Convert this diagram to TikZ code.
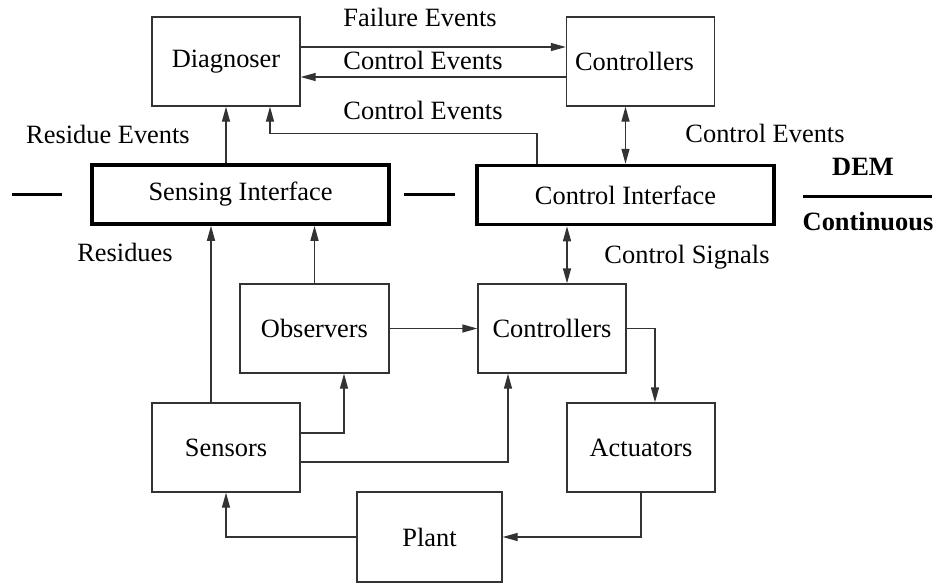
\documentclass[tikz,border=0pt]{standalone}
\usepackage{fontspec}
\setmainfont{Liberation Serif}
\usetikzlibrary{arrows.meta,calc}
\tikzset{
  txt/.style={font=\fontsize{26.4}{30}\selectfont, inner sep=0pt},
  box/.style={txt, draw=black!80, line width=1.3pt, minimum width=148pt, minimum height=89pt},
  ibox/.style={txt, draw=black, line width=3.5pt, minimum width=297pt, minimum height=59pt},
  tip/.style={Triangle[length=15pt,width=8pt]},
  arr/.style={draw=black!80, line width=1.3pt, -{Triangle[length=15pt,width=8pt]}},
  darr/.style={draw=black!80, line width=1.3pt, {Triangle[length=15pt,width=8pt]}-{Triangle[length=15pt,width=8pt]}},
  bar/.style={draw=black, line width=3pt},
  lbl/.style={txt},
  bold/.style={txt, font=\fontsize{26.4}{30}\selectfont\bfseries}
}
\begin{document}
\begin{tikzpicture}[x=1pt,y=-1pt]
\useasboundingbox (0,0) rectangle (938,582);

% upper (discrete event) level
\node[box] (diag)  at (226,61.5)  {Diagnoser};
\node[box] (ctrlT) at (640.5,61.5) {\hspace*{-12pt}Controllers};
\node[ibox] (sens) at (240.5,194.5) {Sensing Interface};
\node[ibox] (cint) at (625.5,195)  {Control Interface};

% lower (continuous) level
\node[box, minimum width=149pt] (obs) at (314.5,328.5) {Observers};
\node[box] (ctrlB)   at (552,328.5)  {Controllers};
\node[box] (sensors) at (226,447.5)  {Sensors};
\node[box] (act)     at (641,447.5)  {Actuators};
\node[box, minimum width=145pt, minimum height=90pt] (plant) at (429.5,537) {Plant};

% labels
\node[lbl] (lfail)  at (420,17)  {Failure Events};
\node[lbl] (lce1)   at (423,60)  {Control Events};
\node[lbl] (lce2)   at (423,110) {Control Events};
\node[lbl] (lres)   at (108,134) {Residue Events};
\node[lbl] (lce3)   at (765,133) {Control Events};
\node[lbl] (lresid) at (125,252) {Residues};
\node[lbl] (lsig)   at (687,257) {Control Signals};
\node[bold] (ldem)  at (863,167) {DEM};
\node[bold] (lcont) at (868,221) {Continuous};

% level separators
\coordinate (d1a) at (12,194);  \coordinate (d1b) at (62,194);
\coordinate (d2a) at (404,194); \coordinate (d2b) at (455,194);
\coordinate (d3a) at (803,196); \coordinate (d3b) at (932,196);
\draw[bar] (d1a) -- (d1b);
\draw[bar] (d2a) -- (d2b);
\draw[bar] (d3a) -- (d3b);

% event connections
\draw[arr] ([yshift=14.5pt]diag.east) -- ([yshift=14.5pt]ctrlT.west);
\draw[arr] ([yshift=-15.5pt]ctrlT.west) -- ([yshift=-15.5pt]diag.east);
\draw[arr] ([xshift=-88.5pt]cint.north) -- ++(0,-30) -| ([xshift=44pt]diag.south);
\draw[arr] (sens.north -| diag.south) -- (diag.south);
\draw[darr] (cint.north |- ctrlT.south) -- (cint.north);
\draw[darr] ([xshift=15pt]ctrlB.north |- cint.south) -- ([xshift=15pt]ctrlB.north);

% signal connections
\draw[arr] ([xshift=-15pt]sensors.north) -- ([xshift=-15pt]sensors.north |- sens.south);
\draw[arr] (obs.north) -- (obs.north |- sens.south);
\draw[arr] (obs.east) -- (obs.east -| ctrlB.west);
\draw[arr] ([yshift=14.5pt]sensors.east) -| ([xshift=29.5pt]obs.south);
\draw[arr] ([yshift=-14.5pt]sensors.east) -| ([xshift=-44pt]ctrlB.south);
\draw[arr] (ctrlB.east) -| ([xshift=14pt]act.north);
\draw[arr] (act.south) |- (plant.east);
\draw[arr] (plant.west) -| (sensors.south);
\end{tikzpicture}
\end{document}
